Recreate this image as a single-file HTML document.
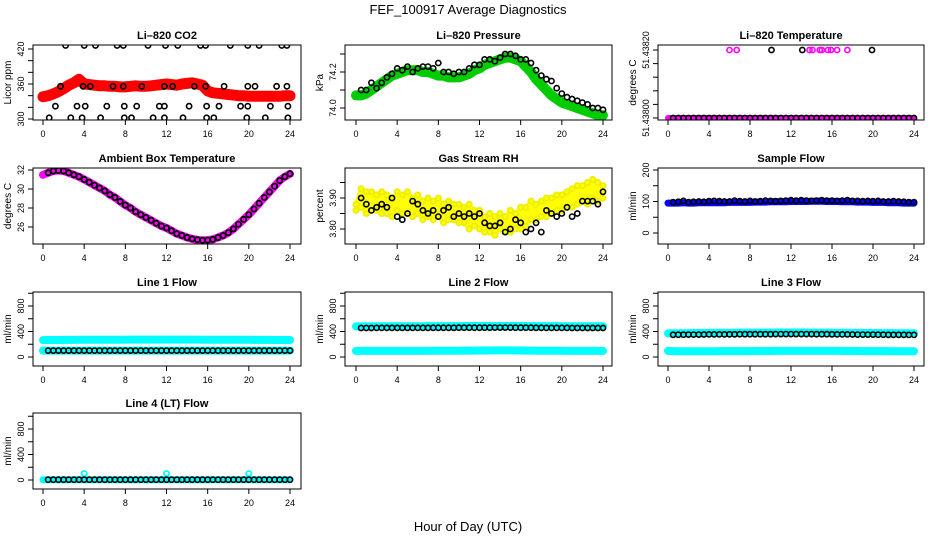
<!DOCTYPE html>
<html><head><meta charset="utf-8"><style>
html,body{margin:0;padding:0;background:#fff;}
svg{display:block;font-family:"Liberation Sans",sans-serif;}
</style></head><body>
<svg id="chart" width="936" height="540" xmlns="http://www.w3.org/2000/svg">
<text x="468" y="14" text-anchor="middle" font-size="13">FEF_100917  Average Diagnostics</text>
<text x="468" y="531" text-anchor="middle" font-size="13">Hour of Day (UTC)</text>
</svg>
<script>
const H49 = [0,0.5,1,1.5,2,2.5,3,3.5,4,4.5,5,5.5,6,6.5,7,7.5,8,8.5,9,9.5,10,10.5,11,11.5,12,12.5,13,13.5,14,14.5,15,15.5,16,16.5,17,17.5,18,18.5,19,19.5,20,20.5,21,21.5,22,22.5,23,23.5,24];
const H48 = [0.5,1,1.5,2,2.5,3,3.5,4,4.5,5,5.5,6,6.5,7,7.5,8,8.5,9,9.5,10,10.5,11,11.5,12,12.5,13,13.5,14,14.5,15,15.5,16,16.5,17,17.5,18,18.5,19,19.5,20,20.5,21,21.5,22,22.5,23,23.5,24];
const xTicks = [0,4,8,12,16,20,24];

const co2Red = [338,340,343,347,352,358,362,368,360,359,358,357,357,356,356,355,355,356,357,356,356,357,358,359,360,359,358,360,361,362,360,358,348,345,344,343,342,341,340,340,339,339,339,339,339,339,339,340,340];
const co2BlackHours = [2.2,4.0,5.1,7.2,7.8,10.2,11.9,13.1,15.3,15.8,18.2,19.9,21.0,23.2,23.7, 1.7,3.9,4.6,6.8,7.8,9.6,11.8,12.6,14.7,15.8,17.6,19.9,20.6,22.7,23.7, 1.2,3.3,4.1,6.2,7.9,9.1,11.3,11.8,14.2,15.9,17.1,19.2,19.9,22.1,23.8, 0.6,2.7,3.8,5.6,7.9,8.6,10.7,11.8,13.6,15.9,16.6,19.8,21.6,23.8];
const co2BlackVals = [426,426,426,426,426,426,426,426,426,426,426,426,426,426,426, 356,356,356,356,356,356,356,356,356,356,356,356,356,356,356, 322,322,322,322,322,322,322,322,322,322,322,322,322,322,322, 302,302,302,302,302,302,302,302,302,302,302,302,302,302];

const presGreen = [74.07,74.07,74.08,74.10,74.12,74.14,74.16,74.18,74.19,74.20,74.21,74.21,74.21,74.20,74.20,74.19,74.18,74.18,74.17,74.17,74.17,74.18,74.19,74.21,74.22,74.24,74.25,74.26,74.27,74.28,74.28,74.27,74.26,74.23,74.20,74.16,74.13,74.10,74.07,74.05,74.03,74.02,74.01,74.00,73.99,73.98,73.97,73.96,73.96];
const presBlack = [74.10,74.10,74.14,74.11,74.14,74.17,74.19,74.22,74.21,74.23,74.20,74.22,74.23,74.23,74.22,74.25,74.20,74.20,74.19,74.20,74.20,74.22,74.24,74.24,74.27,74.27,74.26,74.28,74.30,74.30,74.29,74.27,74.27,74.25,74.21,74.18,74.16,74.15,74.11,74.08,74.06,74.05,74.04,74.03,74.02,74.00,74.00,73.99];

const tempBase = [51.438,51.438,51.438,51.438,51.438,51.438,51.438,51.438,51.438,51.438,51.438,51.438,51.438,51.438,51.438,51.438,51.438,51.438,51.438,51.438,51.438,51.438,51.438,51.438,51.438,51.438,51.438,51.438,51.438,51.438,51.438,51.438,51.438,51.438,51.438,51.438,51.438,51.438,51.438,51.438,51.438,51.438,51.438,51.438,51.438,51.438,51.438,51.438,51.438];
const tempPinkHighHours = [6.0,6.7,13.8,14.1,14.8,15.0,15.6,15.9,16.5,17.5];
const tempPinkHighVals = [51.4382,51.4382,51.4382,51.4382,51.4382,51.4382,51.4382,51.4382,51.4382,51.4382];
const tempBlackHighHours = [10.1,13.1,19.9];
const tempBlackHighVals = [51.4382,51.4382,51.4382];

const ambient = [31.5,31.7,31.9,31.95,31.9,31.7,31.5,31.3,31.0,30.7,30.4,30.1,29.8,29.4,29.1,28.7,28.3,28.0,27.6,27.3,27.0,26.7,26.4,26.1,25.9,25.6,25.3,25.1,24.9,24.75,24.65,24.6,24.62,24.7,24.9,25.1,25.4,25.8,26.3,26.8,27.3,27.9,28.5,29.1,29.7,30.3,30.9,31.3,31.6];
const ambientBlack = [31.7,31.9,31.95,31.9,31.7,31.5,31.3,31.0,30.7,30.4,30.1,29.8,29.4,29.1,28.7,28.3,28.0,27.6,27.3,27.0,26.7,26.4,26.1,25.9,25.6,25.3,25.1,24.9,24.75,24.65,24.6,24.62,24.7,24.9,25.1,25.4,25.8,26.3,26.8,27.3,27.9,28.5,29.1,29.7,30.3,30.9,31.3,31.6];

const rhYellowHigh = [3.88,3.93,3.92,3.92,3.91,3.92,3.91,3.90,3.92,3.91,3.92,3.90,3.91,3.89,3.90,3.89,3.90,3.88,3.89,3.88,3.88,3.87,3.88,3.86,3.86,3.84,3.85,3.84,3.85,3.84,3.86,3.85,3.87,3.87,3.89,3.88,3.89,3.90,3.90,3.91,3.91,3.92,3.93,3.94,3.94,3.95,3.96,3.95,3.94];
const rhYellowLow = [3.86,3.87,3.85,3.86,3.86,3.85,3.85,3.84,3.86,3.85,3.85,3.84,3.85,3.83,3.84,3.83,3.84,3.82,3.83,3.83,3.82,3.82,3.80,3.81,3.80,3.79,3.79,3.78,3.80,3.79,3.79,3.80,3.80,3.81,3.83,3.83,3.84,3.84,3.85,3.86,3.86,3.87,3.87,3.88,3.89,3.88,3.90,3.89,3.90];
const rhBlack = [3.90,3.88,3.86,3.87,3.88,3.87,3.90,3.84,3.83,3.85,3.89,3.88,3.86,3.85,3.86,3.84,3.86,3.87,3.84,3.85,3.84,3.85,3.84,3.85,3.82,3.81,3.81,3.82,3.79,3.80,3.83,3.82,3.79,3.80,3.82,3.79,3.86,3.85,3.84,3.85,3.87,3.84,3.85,3.89,3.89,3.89,3.88,3.92];

const sampleBlue = [95,95,95,96,95,95,96,96,96,96,96,96,97,97,97,97,97,98,98,98,99,99,99,99,100,100,100,100,101,101,101,100,100,100,99,99,99,98,98,98,97,97,97,96,96,96,95,95,95];
const sampleBlack = [98,99,102,98,99,100,99,101,102,101,100,100,103,101,100,102,100,101,103,102,101,102,103,104,103,104,103,102,103,104,103,103,102,103,104,102,102,101,102,101,102,100,100,101,100,99,98,98];

const line1CyanHigh = [265,266,266,267,268,268,269,270,270,270,271,271,271,272,272,272,272,273,273,273,273,273,273,273,273,273,273,273,273,273,273,272,272,272,272,271,271,271,270,270,270,269,269,268,268,267,267,266,266];
const line1CyanLow = [100,100,100,100,100,100,100,100,100,100,100,100,100,100,100,100,100,100,100,100,100,100,100,100,100,100,100,100,100,100,100,100,100,100,100,100,100,100,100,100,100,100,100,100,100,100,100,100,100];
const line1Black = [100,100,100,100,100,100,100,100,100,100,100,100,100,100,100,100,100,100,100,100,100,100,100,100,100,100,100,100,100,100,100,100,100,100,100,100,100,100,100,100,100,100,100,100,100,100,100,100];

const line2CyanHigh = [480,480,480,481,481,481,482,482,482,482,483,483,483,483,484,484,484,485,485,485,485,486,486,486,487,487,487,487,487,487,487,486,486,486,485,485,485,484,484,484,483,483,483,482,482,482,481,481,481];
const line2CyanLow = [95,95,95,95,95,95,95,95,95,95,96,96,96,96,96,97,97,98,98,99,99,100,100,101,102,102,102,103,103,103,103,102,102,101,100,99,99,98,98,97,97,96,96,96,96,95,95,95,95];
const line2Black = [455,455,455,456,456,456,456,456,457,457,457,457,457,457,458,458,458,458,458,459,459,459,459,460,460,460,461,461,461,461,460,460,459,459,458,458,457,457,456,456,456,455,455,455,455,455,455,455];

const line3CyanHigh = [370,372,373,374,375,376,377,378,378,379,380,380,381,381,382,382,383,383,383,384,384,384,384,384,384,384,384,384,383,383,382,382,381,380,380,379,378,378,377,377,376,376,375,375,375,374,374,374,374];
const line3CyanLow = [95,92,90,90,90,90,90,90,91,91,92,92,92,93,93,93,93,94,94,94,94,95,95,95,95,95,95,96,96,96,96,95,95,95,95,94,94,94,93,93,93,92,92,92,91,91,90,90,90];
const line3Black = [348,350,350,351,352,352,353,354,354,355,355,356,356,357,357,357,358,358,358,358,359,359,359,359,359,359,359,359,358,358,357,356,355,355,354,353,352,352,351,351,350,350,349,349,348,348,347,347];

const line4Cyan = [5,5,5,5,5,5,5,5,5,5,5,5,5,5,5,5,5,5,5,5,5,5,5,5,5,5,5,5,5,5,5,5,5,5,5,5,5,5,5,5,5,5,5,5,5,5,5,5,5];
const line4CyanSpikeHours = [4,12,20];
const line4CyanSpikeVals = [100,100,100];
const line4Black = [5,5,5,5,5,5,5,5,5,5,5,5,5,5,5,5,5,5,5,5,5,5,5,5,5,5,5,5,5,5,5,5,5,5,5,5,5,5,5,5,5,5,5,5,5,5,5,5];

const NS = "http://www.w3.org/2000/svg";
const svg = document.getElementById('chart');
function mk(tag, attrs, parent){ const e=document.createElementNS(NS,tag); for(const k in attrs) e.setAttribute(k,attrs[k]); (parent||svg).appendChild(e); return e; }

const COLS = [{l:33,r:301,x0:43,x1:290},{l:345,r:612,x0:356,x1:603},{l:658,r:924,x0:668,x1:914}];
const ROWS = [{t:45,b:120},{t:168,b:244},{t:292,b:366},{t:413,b:489}];

function panel(opt){
  const c=COLS[opt.col], r=ROWS[opt.row];
  const g=mk('g',{});
  
  
  const xs = h => c.x0 + (c.x1-c.x0)*h/24;
  const ys = v => opt.p0 + (v-opt.v0)*(opt.p1-opt.p0)/(opt.v1-opt.v0);
  const t=mk('text',{x:(c.l+c.r)/2,y:r.t-6,'text-anchor':'middle','font-size':11,'font-weight':'bold'},g);
  t.textContent=opt.title;
  
  
  const yt=mk('text',{x:0,y:0,'text-anchor':'middle','font-size':10,transform:`translate(${c.l-22},${(r.t+r.b)/2}) rotate(-90)`},g);
  yt.textContent=opt.ylab;
  
  
  // x axis
  const xa=mk('g',{},g);
  
  
  xTicks.forEach(h=>{
    mk('line',{x1:xs(h),x2:xs(h),y1:r.b,y2:r.b+5,stroke:'#000','stroke-width':1},xa);
    const tl=mk('text',{x:xs(h),y:r.b+17,'text-anchor':'middle','font-size':9},xa);
    tl.textContent=h;
    
    
  });
  // y axis
  const ya=mk('g',{},g);
  
  
  opt.yticks.forEach(v=>{
    mk('line',{x1:c.l-5,x2:c.l,y1:ys(v),y2:ys(v),stroke:'#000','stroke-width':1},ya);
  });
  opt.ylabels.forEach((v,i)=>{
    const tl=mk('text',{x:0,y:0,'text-anchor':'middle','font-size':9,transform:`translate(${c.l-9},${ys(v)}) rotate(-90)`},ya);
    tl.textContent=opt.ylabelText[i];
    
    
  });
  const clipId='clip'+opt.row+opt.col;
  const cp=mk('clipPath',{id:clipId},g);
  mk('rect',{x:c.l,y:r.t,width:c.r-c.l,height:r.b-r.t},cp);
  const plot=mk('g',{'clip-path':`url(#${clipId})`},g);
  
  
  const box=mk('rect',{x:c.l,y:r.t,width:c.r-c.l,height:r.b-r.t,fill:'none',stroke:'#000','stroke-width':1},g);
  
  
  return {xs,ys,plot};
}
function band(P,hours,vals,color,w,name){
  const d=hours.map((h,i)=>(i?'L':'M')+P.xs(h).toFixed(1)+','+P.ys(vals[i]).toFixed(1)).join(' ');
  const p=mk('path',{d,fill:'none',stroke:color,'stroke-width':w,'stroke-linecap':'round','stroke-linejoin':'round'},P.plot);
  
  
}
function area(P,hours,hi,lo,color,name){
  let d=hours.map((h,i)=>(i?'L':'M')+P.xs(h).toFixed(1)+','+P.ys(hi[i]).toFixed(1)).join(' ');
  for(let i=hours.length-1;i>=0;i--) d+=' L'+P.xs(hours[i]).toFixed(1)+','+P.ys(lo[i]).toFixed(1);
  const p=mk('path',{d:d+' Z',fill:color,stroke:color,'stroke-width':4,'stroke-linejoin':'round'},P.plot);
  
  
}
function pts(P,hours,vals,color,name,sw){
  hours.forEach((h,i)=>{
    const ci=mk('circle',{cx:P.xs(h).toFixed(1),cy:P.ys(vals[i]).toFixed(1),r:2.6,fill:'none',stroke:color,'stroke-width':sw||1.6},P.plot);
    
    
  });
}

// Row 1
let P=panel({name:'co2-panel',row:0,col:0,title:'Li\u2013820 CO2',ylab:'Licor ppm',v0:300,p0:119,v1:420,p1:49,
  yticks:[300,320,340,360,380,400,420],ylabels:[300,360,420],ylabelText:['300','360','420']});
band(P,H49,co2Red,'#ff0000',11,'co2-red-band');
pts(P,H49,co2Red,'#ff0000','co2-red-point',2);
pts(P,co2BlackHours,co2BlackVals,'#000','co2-black-point');

P=panel({name:'pressure-panel',row:0,col:1,title:'Li\u2013820 Pressure',ylab:'kPa',v0:74.0,p0:108,v1:74.2,p1:72,
  yticks:[74.0,74.1,74.2,74.3],ylabels:[74.0,74.2],ylabelText:['74.0','74.2']});
band(P,H49,presGreen,'#00cc00',10,'pressure-green-band');
pts(P,H49,presGreen,'#00cc00','pressure-green-point',2);
pts(P,H48,presBlack,'#000','pressure-black-point');

P=panel({name:'temperature-panel',row:0,col:2,title:'Li\u2013820 Temperature',ylab:'degrees C',v0:51.438,p0:118,v1:51.4382,p1:50,
  yticks:[51.438,51.43804,51.43808,51.43812,51.43816,51.4382],ylabels:[51.438,51.4382],ylabelText:['51.43800','51.43820']});
band(P,H49,tempBase,'#ff00ff',6,'temp-pink-band');
pts(P,H48,tempBase.slice(1),'#000','temp-black-point');
pts(P,tempPinkHighHours,tempPinkHighVals,'#ff00ff','temp-pink-high-point');
pts(P,tempBlackHighHours,tempBlackHighVals,'#000','temp-black-high-point');

// Row 2
P=panel({name:'ambient-panel',row:1,col:0,title:'Ambient Box Temperature',ylab:'degrees C',v0:32,p0:170,v1:26,p1:227,
  yticks:[26,28,30,32],ylabels:[26,28,30,32],ylabelText:['26','28','30','32']});
band(P,H49,ambient,'#ff00ff',8,'ambient-pink-band');
pts(P,H48,ambientBlack,'#000','ambient-black-point',1.8);

P=panel({name:'rh-panel',row:1,col:1,title:'Gas Stream RH',ylab:'percent',v0:3.90,p0:198,v1:3.80,p1:229,
  yticks:[3.80,3.85,3.90,3.95],ylabels:[3.80,3.90],ylabelText:['3.80','3.90']});
area(P,H49,rhYellowHigh,rhYellowLow,'#ffff00','rh-yellow-area');
pts(P,H49,rhYellowHigh,'#eeee00','rh-yellow-point',1.8);
pts(P,H49,rhYellowLow,'#eeee00','rh-yellow-point',1.8);
pts(P,H48,rhBlack,'#000','rh-black-point');

P=panel({name:'sample-flow-panel',row:1,col:2,title:'Sample Flow',ylab:'ml/min',v0:200,p0:170,v1:0,p1:233,
  yticks:[0,50,100,150,200],ylabels:[0,100,200],ylabelText:['0','100','200']});
band(P,H49,sampleBlue,'#0000ff',7,'sample-blue-band');
pts(P,H48,sampleBlack,'#000','sample-black-point');

// Row 3 and 4 flows
const flowTicks=[0,200,400,600,800,1000];
function flowPanel(name,row,col,title,p0){
  return panel({name,row,col,title,ylab:'ml/min',v0:0,p0:p0,v1:800,p1:p0-51,
    yticks:flowTicks,ylabels:[0,400,800],ylabelText:['0','400','800']});
}
P=flowPanel('line1-flow-panel',2,0,'Line 1 Flow',357);
band(P,H49,line1CyanHigh,'#00ffff',8,'line1-cyan-high-band');
band(P,H49,line1CyanLow,'#00ffff',8,'line1-cyan-low-band');
pts(P,H48,line1Black,'#000','line1-black-point');

P=flowPanel('line2-flow-panel',2,1,'Line 2 Flow',357);
band(P,H49,line2CyanHigh,'#00ffff',8,'line2-cyan-high-band');
band(P,H49,line2CyanLow,'#00ffff',8,'line2-cyan-low-band');
pts(P,H48,line2Black,'#000','line2-black-point');

P=flowPanel('line3-flow-panel',2,2,'Line 3 Flow',357);
band(P,H49,line3CyanHigh,'#00ffff',8,'line3-cyan-high-band');
band(P,H49,line3CyanLow,'#00ffff',8,'line3-cyan-low-band');
pts(P,H48,line3Black,'#000','line3-black-point');

P=flowPanel('line4-flow-panel',3,0,'Line 4 (LT) Flow',480);
band(P,H49,line4Cyan,'#00ffff',7,'line4-cyan-band');
pts(P,line4CyanSpikeHours,line4CyanSpikeVals,'#00ffff','line4-cyan-spike-point',1.8);
pts(P,H48,line4Black,'#000','line4-black-point');
</script>
</body></html>
